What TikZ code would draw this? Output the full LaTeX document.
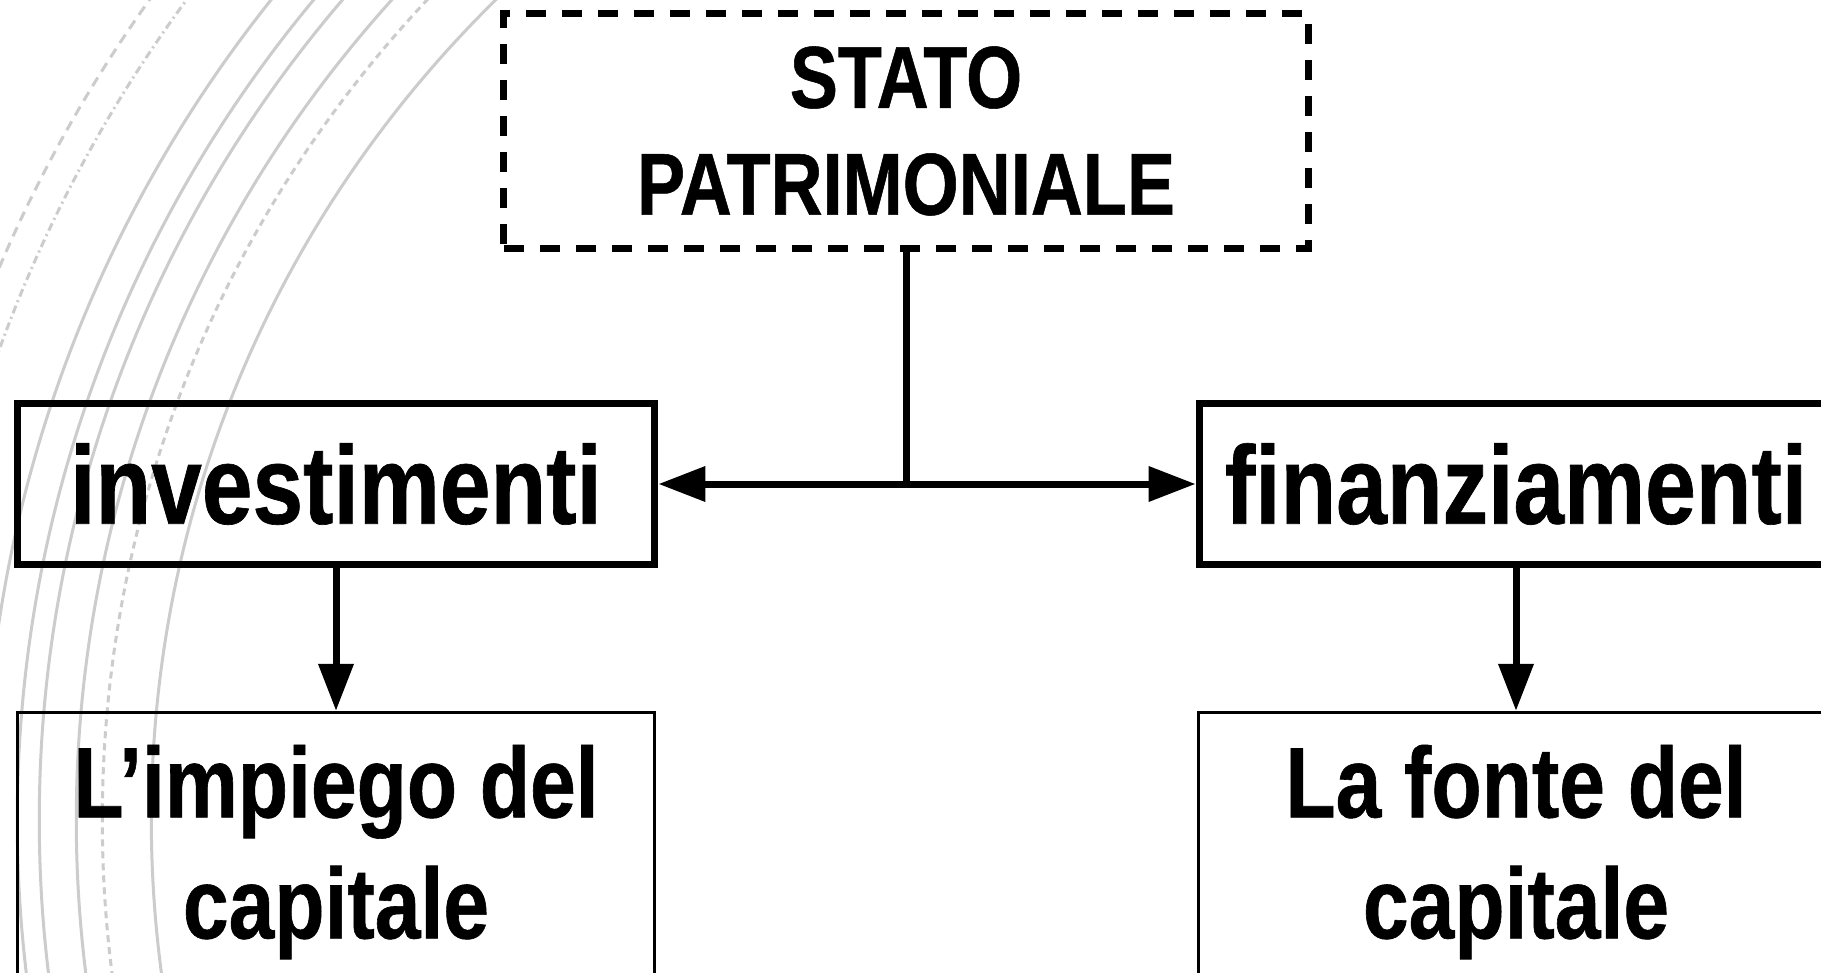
\documentclass[tikz,border=0pt]{standalone}
\usepackage{fontspec}
\newfontfamily\cnd[FakeStretch=0.82,FakeBold=0.6]{Liberation Sans}
\usetikzlibrary{arrows.meta}
\tikzset{
  bgarc/.style={draw=black!20, line width=0.03cm},
  headbox/.style={draw, dash pattern=on 0.2cm off 0.16cm, line width=0.07cm,
    minimum width=8.04cm, minimum height=2.34cm, align=center, inner sep=0pt,
    font=\cnd\bfseries\fontsize{25pt}{30.4pt}\selectfont},
  midbox/.style={draw, line width=0.075cm, minimum width=6.37cm, minimum height=1.61cm,
    inner sep=0pt, font=\cnd\bfseries\fontsize{31.6pt}{36pt}\selectfont},
  lowbox/.style={draw, line width=0.032cm, minimum width=6.37cm, minimum height=2.79cm,
    align=center, inner sep=0pt, font=\cnd\bfseries\fontsize{28.5pt}{34.4pt}\selectfont},
  conn/.style={line width=0.07cm},
  arr/.style={-{Triangle[length=0.47cm,width=0.34cm]}},
  arrboth/.style={{Triangle[length=0.47cm,width=0.34cm]}-{Triangle[length=0.47cm,width=0.34cm]}}
}
\begin{document}
\begin{tikzpicture}[x=0.01cm,y=-0.01cm]
\useasboundingbox (0,0) rectangle (1821,973);
\clip (0,0) rectangle (1821,973);
\fill[white] (0,0) rectangle (1821,973);
% background arcs
\draw[bgarc, dash pattern=on 0.1cm off 0.07cm] (1300,820) circle[radius=14.12cm];
\draw[bgarc, dash pattern=on 0.08cm off 0.04cm on 0.02cm off 0.04cm] (1300,820) circle[radius=13.82cm];
\draw[bgarc] (1300,820) circle[radius=13.15cm];
\draw[bgarc] (1300,820) circle[radius=12.82cm];
\draw[bgarc] (1300,820) circle[radius=12.60cm];
\draw[bgarc] (1300,820) circle[radius=12.23cm];
\draw[bgarc, dash pattern=on 0.07cm off 0.05cm] (1300,820) circle[radius=11.97cm];
\draw[bgarc] (1300,820) circle[radius=11.48cm];
% nodes
\node[headbox] (sp) at (906,131) {STATO\\PATRIMONIALE};
\node[midbox] (inv) at (336,484) {investimenti};
\node[midbox, minimum width=6.33cm] (fin) at (1516,484) {finanziamenti};
\node[lowbox] (imp) at (336,852) {L’impiego del\\capitale};
\node[lowbox, minimum width=6.35cm] (fon) at (1516,852) {La fonte del\\capitale};
% connectors
\draw[conn] (sp.south) -- (sp.south |- inv.east);
\draw[conn, arrboth] (inv.east) -- (fin.west);
\draw[conn, arr] (inv.south) -- (imp.north);
\draw[conn, arr] (fin.south) -- (fon.north);
\end{tikzpicture}
\end{document}
